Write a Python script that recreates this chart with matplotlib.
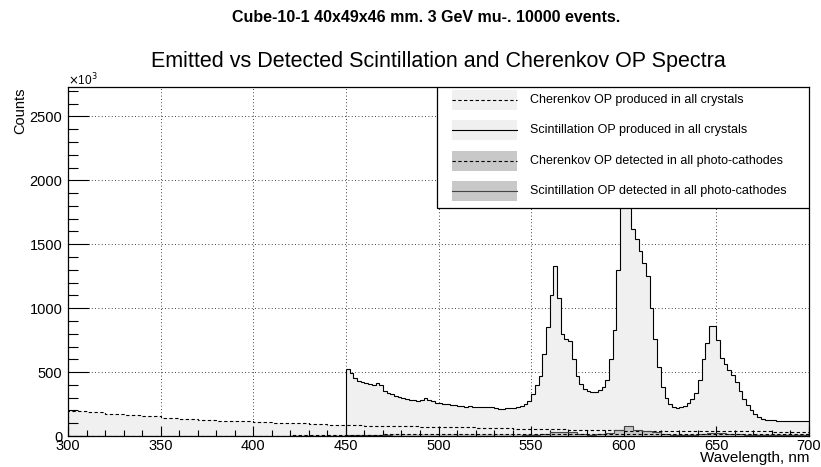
import numpy as np
import matplotlib
matplotlib.use("Agg")
import matplotlib.pyplot as plt
from matplotlib.patches import Rectangle
from matplotlib.lines import Line2D

plt.rcParams['font.family'] = ['Liberation Sans', 'DejaVu Sans']

# counts in units of 10^3
# scintillation produced, 2 nm bins from 450 to 700
scint_prod = [
    525, 490, 455, 428, 420, 415, 410, 400, 412, 398,
    350, 340, 325, 312, 305, 298, 290, 284, 278, 272,
    282, 294, 285, 270, 258, 255, 250, 248, 244, 240,
    236, 232, 230, 232, 228, 225, 226, 228, 226, 224,
    222, 214, 210, 218, 220, 222, 226, 235, 248, 270,
    330, 400, 470, 640, 850, 1100, 1330, 1080, 800, 760,
    740, 600, 470, 410, 365, 350, 345, 345, 360, 380,
    440, 600, 830, 1300, 2000, 2600, 2100, 1620, 1540, 1450,
    1350, 1250, 1000, 760, 540, 380, 300, 250, 228, 222,
    225, 235, 260, 290, 340, 440, 600, 730, 860, 860,
    750, 610, 560, 520, 480, 420, 350, 290, 240, 200,
    170, 150, 132, 126, 123, 122, 121, 120, 120, 120,
    120, 120, 121, 121, 121,
]
scint_edges = np.arange(450, 702, 2)

# cherenkov produced, 10 nm bins from 300 to 700
cher_prod = [
    195, 186, 176, 166, 154, 143, 135, 128, 121, 116,
    110, 104, 98, 94, 89, 86, 82, 78, 75, 72,
    70, 67, 64, 61, 58, 55, 52, 50, 47, 45,
    43, 42, 41, 40, 39, 38, 37, 36, 35, 34,
]
cher_edges = np.arange(300, 710, 10)

# cherenkov detected, 10 nm bins from 300 to 700
cher_det = [
    0, 0, 0, 0, 0, 0, 0, 0, 0, 0,
    0, 0, 4, 6, 8, 10, 11, 12, 12, 12,
    12, 12, 12, 12, 12, 12, 13, 13, 13, 13,
    14, 14, 13, 13, 13, 13, 13, 13, 12, 12,
]

# scintillation detected, 5 nm bins from 450 to 700
scint_det = [
    4, 4, 4, 4, 4, 3, 3, 3, 3, 3,
    3, 3, 3, 3, 3, 3, 3, 3, 3, 4,
    6, 15, 28, 32, 28, 12, 10, 12, 25, 50,
    75, 50, 38, 30, 15, 8, 8, 10, 15, 22,
    24, 16, 12, 8, 6, 5, 5, 5, 5, 5,
]
sdet_edges = np.arange(450, 705, 5)

xticks = np.arange(300, 701, 50)
yticks = np.arange(0, 2501, 500)

legend_labels = [
    "Cherenkov OP produced in all crystals",
    "Scintillation OP produced in all crystals",
    "Cherenkov OP detected in all photo-cathodes",
    "Scintillation OP detected in all photo-cathodes",
]

light = '#f0f0f0'
dark = '#c8c8c8'
dash = (0, (3, 2.2))

fig = plt.figure(figsize=(8.21, 4.67), dpi=100)
ax = fig.add_axes([68/821, 31/467, 741/821, 349/467])

# grid under the histograms
for x in xticks:
    ax.axvline(x, color='black', lw=0.6, ls=(0, (1, 3)), zorder=0.5)
for y in yticks:
    ax.axhline(y, color='black', lw=0.6, ls=(0, (1, 3)), zorder=0.5)

ax.stairs(scint_prod, scint_edges, fill=True, color=light, zorder=1)
ax.stairs(cher_prod, cher_edges, fill=True, color=light, zorder=1.1)
ax.stairs(scint_det, sdet_edges, fill=True, color=dark, zorder=1.2)
ax.stairs(cher_det, cher_edges, fill=True, color=dark, zorder=1.3)

ax.stairs(scint_prod, scint_edges, color='black', lw=0.8, zorder=3)
ax.stairs(cher_prod, cher_edges, color='black', lw=0.8, ls=dash, zorder=3)
ax.stairs(scint_det, sdet_edges, color='#444444', lw=0.8, zorder=3)
ax.stairs(cher_det, cher_edges, color='black', lw=0.8, ls=dash, zorder=3)

ax.set_xlim(300, 700)
ax.set_ylim(0, 2730)
ax.set_xticks(xticks)
ax.set_yticks(yticks)
ax.set_xticks(np.arange(300, 701, 10), minor=True)
ax.set_yticks(np.arange(0, 2701, 100), minor=True)
ax.tick_params(axis='x', which='major', direction='in', length=7.5, width=0.8, labelsize=10.5, pad=2)
ax.tick_params(axis='x', which='minor', direction='in', length=4, width=0.8)
ax.tick_params(axis='y', which='major', direction='in', length=15, width=0.8, labelsize=10.5, pad=4)
ax.tick_params(axis='y', which='minor', direction='in', length=7.5, width=0.8)
for s in ax.spines.values():
    s.set_linewidth(0.9)
    s.set_zorder(4)

ax.set_xlabel("Wavelength, nm", loc='right', fontsize=11, labelpad=-1)
ax.set_ylabel("Counts", loc='top', fontsize=10.5, labelpad=2)
ax.text(0.0, 1.02, r"$\times$10$^{3}$", transform=ax.transAxes,
        ha='left', va='center', fontsize=8.5)

fig.text(0.519, 1 - 18/467, "Cube-10-1 40x49x46 mm. 3 GeV mu-. 10000 events.",
         ha='center', va='center', fontsize=11.5, fontweight='bold')
fig.text(438.5/821, 1 - 61/467, "Emitted vs Detected Scintillation and Cherenkov OP Spectra",
         ha='center', va='center', fontsize=15.5)

# legend box drawn by hand (ROOT style)
ax.add_patch(Rectangle((0.498, 0.653), 0.502, 0.347, transform=ax.transAxes,
                       facecolor='white', edgecolor='black', lw=0.9, zorder=5))
rows = [0.963, 0.877, 0.788, 0.702]
fills = [light, light, dark, dark]
styles = [dash, '-', dash, '-']
colors = ['black', 'black', 'black', '#444444']
for yc, fc, st, lc, lab in zip(rows, fills, styles, colors, legend_labels):
    ax.add_patch(Rectangle((0.518, yc - 0.0287), 0.088, 0.0573, transform=ax.transAxes,
                           facecolor=fc, edgecolor='none', zorder=6))
    ax.add_line(Line2D([0.518, 0.606], [yc, yc], transform=ax.transAxes,
                       color=lc, lw=0.8, ls=st, zorder=7))
    ax.text(0.6235, yc, lab, transform=ax.transAxes, ha='left', va='center',
            fontsize=9, zorder=7)

fig.savefig("out.png", dpi=100)
